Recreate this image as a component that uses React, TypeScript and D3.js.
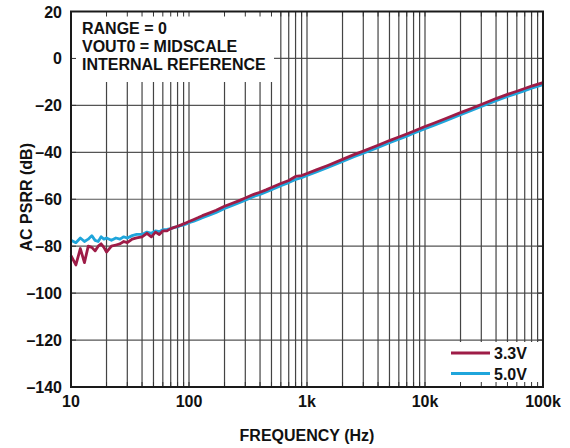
import React from "react";
import * as d3 from "d3";

const freqs = [10, 11, 12, 13, 14, 15, 16, 17, 18, 19, 20, 22, 24, 26, 28, 30, 33, 36, 40, 44, 48, 52, 56, 60, 65, 70, 75, 80, 85, 90, 95, 100, 110, 120, 130, 150, 170, 200, 230, 260, 300, 350, 400, 450, 500, 600, 700, 800, 900, 1000, 1200, 1500, 2000, 2500, 3000, 4000, 5000, 6000, 7000, 8000, 10000, 12000, 15000, 20000, 25000, 30000, 40000, 50000, 60000, 70000, 80000, 100000];

const psrr33 = [-84, -88, -81, -87, -80, -80.5, -82, -80, -79, -80.5, -82.5, -80, -79.5, -79, -78, -78.5, -77, -76.5, -76, -74.5, -76, -74, -75, -73.5, -73.5, -72.5, -72, -71.5, -71, -70.5, -70, -69.5, -68.6, -67.8, -67, -65.8, -64.7, -63, -61.8, -60.8, -59.5, -58, -57, -56, -55, -53.3, -52, -50.3, -49.9, -49, -47.5, -45.6, -43, -41, -39.5, -37, -35, -33.5, -32.2, -31, -29, -27.5, -25.6, -23.1, -21.2, -19.6, -17.1, -15.3, -14, -12.8, -11.8, -10.3];

const psrr50 = [-77.5, -78.5, -76.5, -78, -77, -75.5, -77.5, -78, -76, -77, -76.5, -77.5, -76.5, -77, -76, -76.5, -75.5, -75, -75, -74, -74.5, -73.5, -73.8, -73, -72.8, -72.5, -72, -71.8, -71.2, -71, -70.5, -70, -69.3, -68.6, -67.9, -66.7, -65.6, -63.9, -62.7, -61.7, -60.4, -58.9, -57.9, -56.9, -55.9, -54.2, -52.9, -51.6, -50.8, -49.9, -48.4, -46.5, -43.9, -41.9, -40.4, -37.9, -35.9, -34.4, -33.1, -31.9, -29.9, -28.4, -26.5, -24, -22.1, -20.5, -18, -16.2, -14.9, -13.7, -12.7, -11.2];

const yTicks = [20, 0, -20, -40, -60, -80, -100, -120, -140];
const xTickValues = [10, 100, 1000, 10000, 100000];
const xTickLabels = ["10", "100", "1k", "10k", "100k"];
const annotation = ["RANGE = 0", "VOUT0 = MIDSCALE", "INTERNAL REFERENCE"];
const seriesNames = ["3.3V", "5.0V"];

const RED = "#9e1c47";
const BLUE = "#1fa5db";
const FONT = "'Liberation Sans', Arial, Helvetica, sans-serif";
const FS = 16;

export default function App() {
  const L = 71, R = 543, T = 11.5, B = 387;
  const x = d3.scaleLog().domain([10, 100000]).range([L, R]);
  const y = d3.scaleLinear().domain([-140, 20]).range([B, T]);

  const minor: number[] = [];
  for (let dec = 10; dec < 100000; dec *= 10) {
    for (let m = 1; m <= 9; m++) {
      const v = dec * m;
      if (v > 10 && v < 100000) minor.push(v);
    }
  }

  const line = d3
    .line<number>()
    .x((_, i) => x(freqs[i]))
    .y((d) => y(d));

  const fmt = (v: number) => (v < 0 ? "\u2013" + Math.abs(v) : String(v));

  return (
    <svg
      width={570}
      height={448}
      style={{ position: "absolute", left: 0, top: 0, background: "#fff" }}
      fontFamily={FONT}
    >
      <rect x={0} y={0} width={570} height={448} fill="#fff" />
      {yTicks.map((t) => (
        <line key={"h" + t} x1={L} x2={R} y1={y(t)} y2={y(t)} stroke="#555" strokeWidth={1.2} />
      ))}
      {minor.map((v) => (
        <line key={"v" + v} x1={x(v)} x2={x(v)} y1={T} y2={B} stroke="#444" strokeWidth={1.2} />
      ))}
      <rect x={L} y={T} width={203} height={70.5} fill="#fff" />
      <rect x={427} y={342} width={R - 427} height={B - 342} fill="#fff" />
      {minor.map((v) => (
        <g key={"t" + v}>
          <line x1={x(v)} x2={x(v)} y1={T} y2={T + 5} stroke="#333" strokeWidth={1} />
          <line x1={x(v)} x2={x(v)} y1={B - 5} y2={B} stroke="#333" strokeWidth={1} />
        </g>
      ))}
      {yTicks.map((t) => (
        <g key={"yt" + t}>
          <line x1={L} x2={L + 5} y1={y(t)} y2={y(t)} stroke="#333" strokeWidth={1} />
          <line x1={R - 5} x2={R} y1={y(t)} y2={y(t)} stroke="#333" strokeWidth={1} />
        </g>
      ))}
      <path d={line(psrr50) || ""} fill="none" stroke={BLUE} strokeWidth={2.8} strokeLinejoin="round" />
      <path d={line(psrr33) || ""} fill="none" stroke={RED} strokeWidth={2.8} strokeLinejoin="round" />
      <rect x={L} y={T} width={R - L} height={B - T} fill="none" stroke="#1a1a1a" strokeWidth={2} />
      {annotation.map((s, i) => (
        <text key={s} x={82} y={34 + i * 18} fontSize={FS} fontWeight="bold" fill="#111">
          {s}
        </text>
      ))}
      {seriesNames.map((s, i) => (
        <g key={s}>
          <line x1={451} x2={490} y1={353 + i * 20.5} y2={353 + i * 20.5} stroke={i === 0 ? RED : BLUE} strokeWidth={3} />
          <text x={494} y={359 + i * 20.5} fontSize={FS} fontWeight="bold" fill="#111">
            {s}
          </text>
        </g>
      ))}
      {yTicks.map((t) => (
        <text key={"yl" + t} x={62} y={y(t) + 6} fontSize={FS} fontWeight="bold" textAnchor="end" fill="#111">
          {fmt(t)}
        </text>
      ))}
      {xTickValues.map((v, i) => (
        <text key={"xl" + v} x={x(v)} y={407} fontSize={FS} fontWeight="bold" textAnchor="middle" fill="#111">
          {xTickLabels[i]}
        </text>
      ))}
      <text x={(L + R) / 2} y={441} fontSize={FS} fontWeight="bold" textAnchor="middle" fill="#111">
        FREQUENCY (Hz)
      </text>
      <text
        transform={`translate(32,${(T + B) / 2 - 2}) rotate(-90)`}
        fontSize={FS}
        fontWeight="bold"
        textAnchor="middle"
        fill="#111"
      >
        AC PSRR (dB)
      </text>
    </svg>
  );
}
